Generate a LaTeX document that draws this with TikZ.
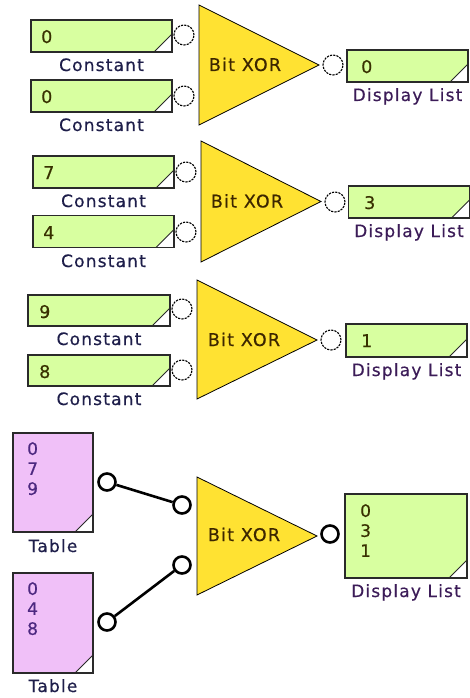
\documentclass[tikz,border=0pt]{standalone}
\usepackage{fontspec}
\newfontfamily\lblfont[LetterSpace=7,FakeBold=0.5]{DejaVu Sans}
\newfontfamily\valfont[LetterSpace=4,FakeBold=0.5]{DejaVu Sans}
\definecolor{cgreen}{HTML}{D8FFA0}
\definecolor{tpink}{HTML}{F0C0F8}
\definecolor{gatefill}{HTML}{FFE232}
\definecolor{lblblue}{HTML}{1E1E4A}
\definecolor{lblpurple}{HTML}{3C1C58}
\definecolor{valolive}{HTML}{383000}
\definecolor{valpurple}{HTML}{4C2880}
\definecolor{gatetext}{HTML}{3C2600}
\definecolor{edge}{HTML}{2A2A2A}
\tikzset{
  boxbase/.style={draw=edge, line width=1.6pt, inner sep=0pt,
    path picture={
      \fill[white] ([xshift=-18pt]path picture bounding box.south east) -- (path picture bounding box.south east) -- ([yshift=18pt]path picture bounding box.south east) -- cycle;
      \draw[edge, line width=1pt] ([xshift=-18pt]path picture bounding box.south east) -- ([yshift=18pt]path picture bounding box.south east);}},
  gbox/.style={boxbase, fill=cgreen},
  tbox/.style={boxbase, fill=tpink, minimum width=80pt},
  lbl/.style={inner sep=0pt, anchor=base, text=lblblue, font=\lblfont\fontsize{17}{20}\selectfont},
  dlbl/.style={lbl, text=lblpurple},
  val/.style={inner sep=0pt, anchor=base west, text=valolive, font=\valfont\fontsize{17.5}{20}\selectfont},
  tval/.style={inner sep=0pt, anchor=north west, align=left, text=valpurple, font=\valfont\fontsize{17}{20}\selectfont},
  dval/.style={tval, text=valolive},
  gate/.style={draw=black, line width=0.8pt, fill=gatefill, line join=miter},
  gtext/.style={inner sep=0pt, anchor=base, text=gatetext, font=\lblfont\fontsize{17.5}{20}\selectfont},
  port/.style={circle, draw=black, line width=1.1pt, dash pattern=on 2.2pt off 1.1pt, fill=white, minimum size=20pt, inner sep=0pt},
  bport/.style={circle, draw=black, line width=2.6pt, fill=white, minimum size=17pt, inner sep=0pt},
  wire/.style={draw=black, line width=2.6pt},
}
\begin{document}
\begin{tikzpicture}[x=1pt,y=-1pt]
\useasboundingbox[fill=white] (0,0) rectangle (470,698);

% ---------- Block 1 ----------
\node[gbox, minimum width=141pt, minimum height=32pt] (c1a) at (101.5,36) {};
\node[val] (v1a) at (41,43) {0};
\node[lbl] (l1a) at (101.5,71) {Constant};
\node[gbox, minimum width=141pt, minimum height=32pt] (c1b) at (101.5,96) {};
\node[val] (v1b) at (41,103) {0};
\node[lbl] (l1b) at (101.5,131) {Constant};
\draw[gate] (199,5) coordinate (g1t) -- (199,125) coordinate (g1b) -- (319,65) coordinate (g1o) -- cycle;
\node[gtext] (g1) at (245,71) {Bit XOR};
\node[port] (p1a) at (184,35) {};
\node[port] (p1b) at (184,96) {};
\node[port] (o1) at (333,65) {};
\node[gbox, minimum width=121pt, minimum height=32pt] (d1) at (407.5,66) {};
\node[val] (dv1) at (361,73) {0};
\node[dlbl] (dl1) at (407.5,101) {Display List};

% ---------- Block 2 ----------
\node[gbox, minimum width=141pt, minimum height=32pt] (c2a) at (103.5,172) {};
\node[val] (v2a) at (43,179) {7};
\node[lbl] (l2a) at (103.5,207) {Constant};
\node[gbox, minimum width=141pt, minimum height=32pt] (c2b) at (103.5,231.5) {};
\node[val] (v2b) at (43,239) {4};
\node[lbl] (l2b) at (103.5,267) {Constant};
\draw[gate] (201,141) coordinate (g2t) -- (201,262) coordinate (g2b) -- (321,201.5) coordinate (g2o) -- cycle;
\node[gtext] (g2) at (247,207.5) {Bit XOR};
\node[port] (p2a) at (186,172) {};
\node[port] (p2b) at (186,232) {};
\node[port] (o2) at (335,202) {};
\node[gbox, minimum width=121pt, minimum height=32pt] (d2) at (409,202) {};
\node[val] (dv2) at (364,209) {3};
\node[dlbl] (dl2) at (409,237) {Display List};

% ---------- Block 3 ----------
\node[gbox, minimum width=142pt, minimum height=31pt] (c3a) at (99,310.5) {};
\node[val] (v3a) at (39,318) {9};
\node[lbl] (l3a) at (99,345) {Constant};
\node[gbox, minimum width=142pt, minimum height=31pt] (c3b) at (99,370.5) {};
\node[val] (v3b) at (39,378) {8};
\node[lbl] (l3b) at (99,405) {Constant};
\draw[gate] (197,280) coordinate (g3t) -- (197,399) coordinate (g3b) -- (317,340) coordinate (g3o) -- cycle;
\node[gtext] (g3) at (244,346) {Bit XOR};
\node[port] (p3a) at (182,309) {};
\node[port] (p3b) at (182,370) {};
\node[port] (o3) at (331,340) {};
\node[gbox, minimum width=121pt, minimum height=33pt] (d3) at (406.5,340.5) {};
\node[val] (dv3) at (361,347) {1};
\node[dlbl] (dl3) at (406.5,376) {Display List};

% ---------- Block 4 ----------
\node[tbox, minimum height=99pt] (t1) at (53,482.5) {};
\node[tval] (tv1) at (27,442) {0\\7\\9};
\node[lbl] (tl1) at (53,552) {Table};
\node[tbox, minimum height=100pt] (t2) at (53,623) {};
\node[tval] (tv2) at (27,582) {0\\4\\8};
\node[lbl] (tl2) at (53,692) {Table};
\draw[gate] (197,477) coordinate (g4t) -- (197,595) coordinate (g4b) -- (317,536) coordinate (g4o) -- cycle;
\node[gtext] (g4) at (244,541) {Bit XOR};
\node[bport] (t1o) at (107,482) {};
\node[bport] (t2o) at (107,622) {};
\node[bport] (x4a) at (182,505) {};
\node[bport] (x4b) at (182,565) {};
\node[bport] (o4) at (330,534) {};
\draw[wire] (t1o) -- (x4a);
\draw[wire] (t2o) -- (x4b);
\node[gbox, minimum width=122pt, minimum height=84pt] (d4) at (406,536) {};
\node[dval] (dv4) at (360,504) {0\\3\\1};
\node[dlbl] (dl4) at (406,597) {Display List};
\end{tikzpicture}
\end{document}
